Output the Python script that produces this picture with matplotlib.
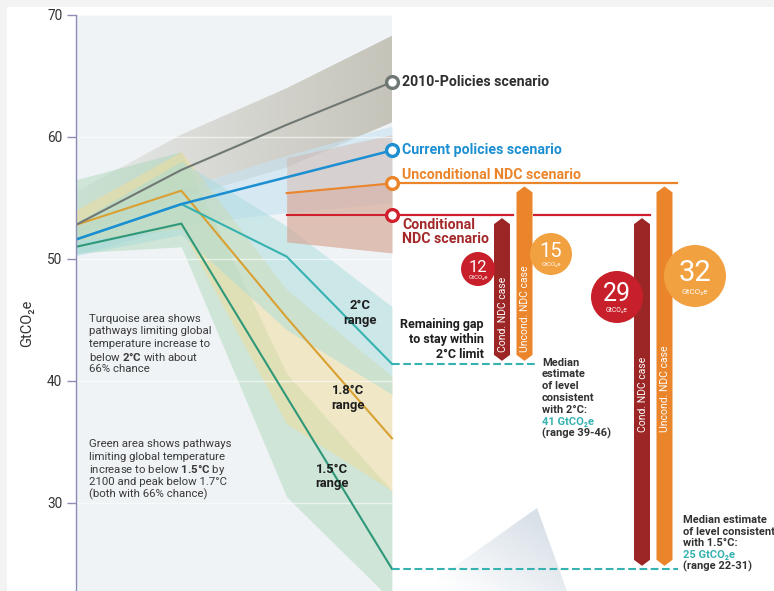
import matplotlib
matplotlib.use("Agg")
import matplotlib.pyplot as plt
from matplotlib.patches import Polygon, Rectangle
import numpy as np

plt.rcParams['font.family'] = ['Roboto', 'DejaVu Sans']
plt.rcParams['mathtext.fontset'] = 'custom'
plt.rcParams['mathtext.rm'] = 'Roboto'
plt.rcParams['mathtext.bf'] = 'Roboto:bold'
plt.rcParams['mathtext.it'] = 'Roboto:italic'

# ---- data (GtCO2e) ----
years = [2015, 2020, 2025, 2030]
ndc_years = [2025, 2030]

policies_2010 = [52.8, 57.3, 61.0, 64.5]
current_policies = [51.6, 54.5, 56.7, 58.9]
uncond_ndc = [55.4, 56.2]
cond_ndc = [53.6, 53.6]
path_2c = [51.6, 54.5, 50.2, 41.4]
path_18c = [52.8, 55.6, 45.2, 35.3]
path_15c = [51.0, 52.9, 38.7, 24.6]

# ranges (lower, upper)
band_2010_lo = [52.0, 55.0, 57.5, 61.2]
band_2010_hi = [55.5, 60.2, 64.0, 68.3]
band_cp_lo = [50.3, 52.8, 53.8, 54.6]
band_cp_hi = [52.5, 55.8, 58.5, 60.9]
band_ndc_lo = [51.4, 50.5]
band_ndc_hi = [58.3, 60.2]
band_2c_lo = [50.3, 52.0, 44.2, 38.9]
band_2c_hi = [53.0, 58.0, 52.7, 46.1]
band_18c_lo = [51.5, 52.5, 36.5, 31.0]
band_18c_hi = [54.0, 58.8, 47.5, 40.4]
band_15c_lo = [50.5, 51.0, 30.5, 22.0]
band_15c_hi = [56.5, 58.8, 40.6, 31.0]

gap_labels = ["12", "15", "29", "32"]
yticks = [30, 40, 50, 60, 70]

# ---- colours ----
C_GRAY = '#6f7873'
C_BLUE = '#1b8fd2'
C_ORANGE = '#ea852b'
C_RED = '#d0202e'
C_TEAL = '#36b2b0'
C_YELLOW = '#d9a032'
C_GREEN = '#2e9878'
C_DARKRED = '#9c2626'
C_CIRC_RED = '#c8202a'
C_CIRC_OR = '#f2a141'
C_TXT = '#333333'
C_AXIS = '#8c8cb4'

# ---- pixel helpers for layout (figure is 774x591 px) ----
PX_PER_YEAR = 316 / 15
PX_PER_UNIT = 12.2


def px(x):
    return 2015 + (x - 76) / PX_PER_YEAR


def py(y):
    return 70 - (y - 15) / PX_PER_UNIT


fig = plt.figure(figsize=(7.74, 5.91), dpi=100)
fig.patch.set_facecolor('#f3f3f3')
fig.patches.append(Rectangle((7 / 774, 0), 1, 1 - 7 / 591, transform=fig.transFigure,
                             facecolor='white', edgecolor='none', zorder=-10))

ax = fig.add_axes([76 / 774, 0, 698 / 774, 576 / 591])
ax.patch.set_visible(False)
ax.set_xlim(2015, px(774))
ax.set_ylim(py(591), 70)

# plot background
ax.axvspan(2015, 2030, color='#eff3f5', zorder=0, lw=0)

# faint decoration at the bottom (diagonal gradient)
gy, gx = np.mgrid[0:1:100j, 0:1:100j]
deco = np.zeros((100, 100, 4))
deco[..., :3] = matplotlib.colors.to_rgb('#c9d4df')
deco[..., 3] = np.clip(0.75 * (gx * 0.7 + (1 - gy) * 0.6) - 0.1, 0, 0.7)
im_d = ax.imshow(deco, extent=(px(420), px(567), py(591), py(508)), aspect='auto',
                 zorder=0.5, interpolation='bilinear', origin='upper')
tri = Polygon([(px(420), py(591)), (px(537), py(508)), (px(567), py(591))],
              closed=True, facecolor='none', edgecolor='none')
ax.add_patch(tri)
im_d.set_clip_path(tri)

# gray band with horizontal gradient
grad = np.zeros((2, 200, 4))
grad[..., :3] = matplotlib.colors.to_rgb('#aca795')
grad[..., 3] = np.linspace(0.12, 0.62, 200)[None, :]
im = ax.imshow(grad, extent=(2015, 2030, 50, 70), aspect='auto', zorder=1,
               interpolation='bilinear')
clip = Polygon(list(zip(years, band_2010_hi)) + list(zip(years[::-1], band_2010_lo[::-1])),
               closed=True, facecolor='none', edgecolor='none')
ax.add_patch(clip)
im.set_clip_path(clip)
ax.set_xlim(2015, px(774))
ax.set_ylim(py(591), 70)

ax.fill_between(years, band_cp_lo, band_cp_hi, color='#c6e2f1', alpha=0.6, lw=0, zorder=1)
ax.fill_between(years, band_15c_lo, band_15c_hi, color='#a6d6b6', alpha=0.45, lw=0, zorder=1)
ax.fill_between(years, band_18c_lo, band_18c_hi, color='#f2dc98', alpha=0.5, lw=0, zorder=1)
ax.fill_between(years, band_2c_lo, band_2c_hi, color='#a3dada', alpha=0.45, lw=0, zorder=1)
ax.fill_between(ndc_years, band_ndc_lo, band_ndc_hi, color='#d7a593', alpha=0.35, lw=0, zorder=1)
ax.fill_between(ndc_years, band_ndc_lo, uncond_ndc, color='#d7a593', alpha=0.45, lw=0, zorder=1)

# faint white grid
for t in yticks:
    ax.plot([2015, 2030], [t, t], color='white', lw=1, alpha=0.6, zorder=1.5)

# pathway lines
ax.plot(years, path_15c, color=C_GREEN, lw=1.5, zorder=2)
ax.plot(years, path_18c, color=C_YELLOW, lw=1.5, zorder=2)
ax.plot(years, path_2c, color=C_TEAL, lw=1.5, zorder=2)
ax.plot(years, policies_2010, color=C_GRAY, lw=1.5, zorder=2)
ax.plot(years, current_policies, color=C_BLUE, lw=1.8, zorder=2.1)
ax.plot(ndc_years, uncond_ndc, color=C_ORANGE, lw=1.5, zorder=2)
ax.plot(ndc_years, cond_ndc, color=C_RED, lw=1.5, zorder=2)

# horizontal level lines to the right
ax.plot([2030, px(677)], [uncond_ndc[-1]] * 2, color=C_ORANGE, lw=1.6, zorder=2, clip_on=False)
ax.plot([2030, px(513)], [cond_ndc[-1]] * 2, color=C_RED, lw=1.6, zorder=2)
ax.plot([px(534), px(650)], [cond_ndc[-1]] * 2, color=C_RED, lw=1.6, zorder=2)
ax.plot([2030, px(537)], [path_2c[-1]] * 2, color=C_TEAL, lw=1.5, ls=(0, (3.7, 1.7)), zorder=2)
ax.plot([2030, px(678)], [path_15c[-1]] * 2, color=C_TEAL, lw=1.5, ls=(0, (3.7, 1.7)), zorder=2)

# end markers
for val, col in [(policies_2010[-1], C_GRAY), (current_policies[-1], C_BLUE),
                 (uncond_ndc[-1], C_ORANGE), (cond_ndc[-1], C_RED)]:
    ax.plot([2030], [val], 'o', ms=8.5, mfc='white', mec=col, mew=2.4, zorder=4, clip_on=False)

# scenario labels
ax.text(px(402), policies_2010[-1], "2010-Policies scenario", color='#2f2f2f',
        fontsize=10.2, fontweight='bold', va='center', ha='left')
ax.text(px(402), current_policies[-1], "Current policies scenario", color=C_BLUE,
        fontsize=10.2, fontweight='bold', va='center', ha='left')
ax.text(px(402), uncond_ndc[-1] + 8 / PX_PER_UNIT, "Unconditional NDC scenario", color=C_ORANGE,
        fontsize=10.2, fontweight='bold', va='center', ha='left')
ax.text(px(402), cond_ndc[-1] - 3 / PX_PER_UNIT, "Conditional\nNDC scenario", color='#a3282a',
        fontsize=10.2, fontweight='bold', va='top', ha='left', linespacing=0.95)

# gap bars
def gap_bar(xc, top, bottom, color):
    hw = 8 / PX_PER_YEAR
    sh = 6 / PX_PER_UNIT
    top -= 0.25
    bottom += 0.25
    verts = [(xc - hw, top - sh), (xc, top), (xc + hw, top - sh),
             (xc + hw, bottom + sh), (xc, bottom), (xc - hw, bottom + sh)]
    ax.add_patch(Polygon(verts, closed=True, facecolor=color, edgecolor='none', zorder=3))


bars = [
    (px(502), cond_ndc[-1], path_2c[-1], C_DARKRED, "Cond. NDC case", py(352)),
    (px(524.5), uncond_ndc[-1], path_2c[-1], C_ORANGE, "Uncond. NDC case", py(352)),
    (px(642), cond_ndc[-1], path_15c[-1], C_DARKRED, "Cond. NDC case", py(432)),
    (px(664.5), uncond_ndc[-1], path_15c[-1], C_ORANGE, "Uncond. NDC case", py(432)),
]
for xc, top, bot, col, lab, ytxt in bars:
    gap_bar(xc, top, bot, col)
    ax.text(xc + 0.5 / PX_PER_YEAR, ytxt, lab, rotation=90, color='white', fontsize=7.5,
            ha='center', va='bottom', zorder=5)

# gap circles
circles = [
    (px(478), py(269), 17, C_CIRC_RED, 12),
    (px(551), py(254), 21, C_CIRC_OR, 14.5),
    (px(617), py(297), 26, C_CIRC_RED, 18),
    (px(695), py(276), 31, C_CIRC_OR, 21),
]
for lab, (cx, cy, r, col, fs) in zip(gap_labels, circles):
    ax.scatter([cx], [cy], s=(2 * r * 0.72) ** 2, color=col, edgecolor='none', zorder=6,
               clip_on=False)
    ax.annotate(lab, (cx, cy), xytext=(0, 0.1 * r * 0.72), textcoords='offset points',
                ha='center', va='center', color='white', fontsize=fs, zorder=7)
    ax.annotate("GtCO₂e", (cx, cy), xytext=(0, -0.52 * r * 0.72), textcoords='offset points',
                ha='center', va='center', color='white', fontsize=max(4.3, r * 0.19), zorder=7)

# range labels inside chart
for txt, x, y1, y2 in [("2°C", 360, 306, 321), ("1.8°C", 348, 390, 406), ("1.5°C", 332, 470, 484)]:
    ax.text(px(x), py(y1), txt, ha='center', va='center', fontsize=9.4, fontweight='bold',
            color='#1e1e1e', zorder=5)
    ax.text(px(x), py(y2), "range", ha='center', va='center', fontsize=9.4, fontweight='bold',
            color='#1e1e1e', zorder=5)

# remaining gap text
for i, line in enumerate(["Remaining gap", "to stay within", "2°C limit"]):
    ax.text(px(484), py(325 + i * 14.7), line, ha='right', va='center', fontsize=9,
            fontweight='bold', color='#1e1e1e')

# median estimate notes
note_2c = [("Median", C_TXT), ("estimate", C_TXT), ("of level", C_TXT), ("consistent", C_TXT),
           ("with 2°C:", C_TXT), ("41 GtCO₂e", C_TEAL), ("(range 39-46)", C_TXT)]
for i, (line, col) in enumerate(note_2c):
    ax.text(px(542), py(362.5 + i * 11.85), line, ha='left', va='center', fontsize=8,
            fontweight='bold', color=col)
note_15c = [("Median estimate", C_TXT), ("of level consistent", C_TXT), ("with 1.5°C:", C_TXT),
            ("25 GtCO₂e", C_TEAL), ("(range 22-31)", C_TXT)]
for i, (line, col) in enumerate(note_15c):
    ax.text(px(683), py(520 + i * 11.6), line, ha='left', va='center', fontsize=8,
            fontweight='bold', color=col, clip_on=False)

# left explanatory paragraphs
para1 = ["Turquoise area shows", "pathways limiting global", "temperature increase to",
         r"below $\mathbf{2°C}$ with about", "66% chance"]
for i, line in enumerate(para1):
    ax.text(px(89), py(319 + i * 12.5), line, ha='left', va='center', fontsize=8.2,
            color='#3a3a3a', zorder=5)
para2 = ["Green area shows pathways", "limiting global temperature",
         r"increase to below $\mathbf{1.5°C}$ by", "2100 and peak below 1.7°C",
         "(both with 66% chance)"]
for i, line in enumerate(para2):
    ax.text(px(89), py(444 + i * 12.67), line, ha='left', va='center', fontsize=8.2,
            color='#3a3a3a', zorder=5)

# axes styling
for s in ['top', 'right', 'bottom']:
    ax.spines[s].set_visible(False)
ax.spines['left'].set_color(C_AXIS)
ax.spines['left'].set_linewidth(1)
ax.set_xticks([])
ax.set_yticks(yticks)
ax.tick_params(axis='y', direction='out', length=6.5, width=1, color=C_AXIS,
               labelcolor=C_TXT, labelsize=9.8, pad=3.3)
fig.text(27.5 / 774, 1 - 323 / 591, "GtCO₂e", rotation=90, ha='center', va='center',
         fontsize=10.5, color=C_TXT)

fig.savefig("out.png", dpi=100)
